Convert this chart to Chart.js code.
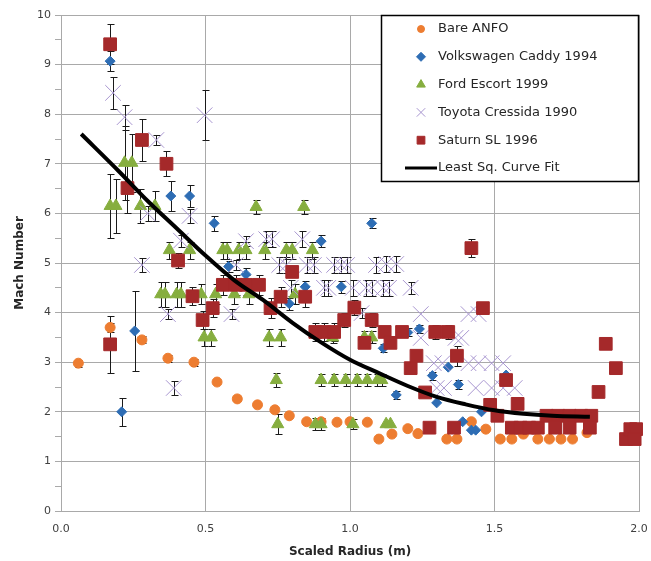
<!DOCTYPE html>
<html>
<head>
<meta charset="utf-8">
<script src="https://cdn.jsdelivr.net/npm/chart.js@4/dist/chart.umd.min.js"></script>
<style>
  html, body { margin: 0; padding: 0; background: #fff; }
  #wrap { width: 651px; height: 561px; }
</style>
</head>
<body>
<div id="wrap"><canvas id="machChart" width="651" height="561"></canvas></div>
<script>
'use strict';

// series names (legend order)
const seriesNames = ['Bare ANFO', 'Volkswagen Caddy 1994', 'Ford Escort 1999',
  'Toyota Cressida 1990', 'Saturn SL 1996', 'Least Sq. Curve Fit'];

// [scaled radius, mach number, error bar half-length]
const bareAnfo = [
  [0.06, 2.98, 0.07], [0.17, 3.7, 0.1], [0.28, 3.45, 0.07], [0.37, 3.08, 0.07], [0.46, 3.0, 0.07],
  [0.54, 2.6, 0], [0.61, 2.26, 0], [0.68, 2.14, 0], [0.74, 2.04, 0], [0.79, 1.92, 0],
  [0.85, 1.8, 0], [0.9, 1.8, 0], [0.955, 1.79, 0], [1.0, 1.8, 0], [1.06, 1.79, 0],
  [1.1, 1.45, 0], [1.145, 1.55, 0], [1.2, 1.66, 0], [1.235, 1.56, 0], [1.335, 1.45, 0],
  [1.37, 1.45, 0], [1.42, 1.8, 0], [1.47, 1.65, 0], [1.52, 1.45, 0], [1.56, 1.45, 0],
  [1.6, 1.55, 0], [1.65, 1.45, 0], [1.69, 1.45, 0], [1.73, 1.45, 0], [1.77, 1.45, 0],
  [1.82, 1.58, 0]
];

const vwCaddy = [
  [0.17, 9.07, 0.2], [0.21, 2.0, 0.28], [0.255, 3.63, 0.8], [0.38, 6.35, 0.3], [0.445, 6.35, 0.22],
  [0.53, 5.8, 0.15], [0.58, 4.93, 0.12], [0.64, 4.77, 0.12], [0.79, 4.18, 0.12], [0.845, 4.52, 0.12],
  [0.9, 5.44, 0.12], [0.97, 4.52, 0.12], [1.075, 5.8, 0.1], [1.115, 3.28, 0.08], [1.16, 2.34, 0.08],
  [1.2, 3.6, 0.08], [1.24, 3.67, 0.08], [1.285, 2.73, 0.08], [1.3, 2.18, 0], [1.34, 2.9, 0],
  [1.375, 2.55, 0.1], [1.39, 1.8, 0], [1.42, 1.63, 0], [1.435, 1.63, 0], [1.455, 2.0, 0],
  [1.54, 2.74, 0]
];

const fordEscort = [
  [0.17, 6.15, 0.65], [0.19, 6.15, 0.55], [0.22, 7.02, 0.75], [0.245, 7.02, 0.58], [0.275, 6.15, 0.35],
  [0.325, 6.15, 0.3], [0.375, 5.26, 0.17], [0.445, 5.26, 0.17], [0.56, 5.26, 0.17], [0.575, 5.26, 0.17],
  [0.615, 5.26, 0.17], [0.64, 5.26, 0.17], [0.705, 5.26, 0.17], [0.78, 5.26, 0.17], [0.8, 5.26, 0.17],
  [0.87, 5.26, 0.17], [0.675, 6.13, 0.15], [0.84, 6.13, 0.15],
  [0.345, 4.37, 0.25], [0.36, 4.37, 0.25], [0.4, 4.37, 0.25], [0.415, 4.37, 0.25], [0.485, 4.37, 0.2],
  [0.535, 4.37, 0.2], [0.6, 4.37, 0.2], [0.65, 4.37, 0.2], [0.81, 4.37, 0.2],
  [0.495, 3.5, 0.17], [0.52, 3.5, 0.17], [0.72, 3.5, 0.17], [0.76, 3.5, 0.17], [0.94, 3.5, 0.12],
  [1.05, 3.5, 0.12], [1.075, 3.5, 0.12],
  [0.745, 2.64, 0.15], [0.9, 2.64, 0.12], [0.945, 2.64, 0.12], [0.985, 2.64, 0.12], [1.025, 2.64, 0.12],
  [1.06, 2.64, 0.12], [1.095, 2.64, 0.12], [1.11, 2.64, 0.12],
  [0.75, 1.75, 0.2], [0.88, 1.75, 0.12], [0.9, 1.75, 0.12], [1.01, 1.75, 0.1], [1.125, 1.75, 0],
  [1.14, 1.75, 0]
];

const toyotaCressida = [
  [0.18, 8.43, 0.33], [0.22, 7.94, 0.25], [0.33, 7.48, 0.1], [0.497, 7.98, 0.5], [0.3, 6.0, 0.15],
  [0.28, 4.96, 0.14], [0.415, 5.45, 0.12], [0.445, 5.95, 0.14], [0.37, 3.97, 0.1], [0.39, 2.48, 0.14],
  [0.59, 3.97, 0.1], [0.605, 4.96, 0.1], [0.64, 5.44, 0.1], [0.71, 5.48, 0.16], [0.73, 5.48, 0.16],
  [0.835, 5.48, 0.16], [0.755, 4.96, 0.16], [0.78, 4.96, 0.16], [0.85, 4.96, 0.16], [0.875, 4.96, 0.16],
  [0.945, 4.96, 0.16], [0.97, 4.96, 0.16], [0.99, 4.96, 0.16], [1.09, 4.96, 0.16], [1.125, 4.98, 0.16],
  [1.16, 4.98, 0.16], [0.795, 4.5, 0.16], [0.91, 4.5, 0.16], [0.925, 4.5, 0.16], [1.01, 4.5, 0.16],
  [1.055, 4.5, 0.16], [1.075, 4.5, 0.16], [1.115, 4.5, 0.16], [1.135, 4.5, 0.16], [1.21, 4.5, 0.12],
  [1.04, 3.99, 0.1], [1.245, 3.97, 0], [1.41, 3.97, 0], [1.445, 3.97, 0], [1.245, 3.49, 0],
  [1.365, 3.49, 0], [1.385, 3.49, 0], [1.29, 2.98, 0], [1.32, 2.98, 0], [1.41, 2.98, 0],
  [1.445, 2.98, 0], [1.49, 2.98, 0], [1.53, 2.98, 0], [1.3, 2.48, 0], [1.325, 2.48, 0],
  [1.435, 2.48, 0], [1.49, 2.48, 0], [1.53, 2.48, 0], [1.57, 2.48, 0]
];

const saturnSL = [
  [0.17, 9.41, 0.4], [0.17, 3.36, 0.57], [0.23, 6.51, 0.5], [0.28, 7.48, 0.42], [0.365, 7.0, 0.25],
  [0.405, 5.05, 0.15], [0.455, 4.33, 0.18], [0.49, 3.85, 0.18], [0.525, 4.09, 0.18], [0.56, 4.56, 0.2],
  [0.605, 4.56, 0.2], [0.64, 4.56, 0.2], [0.685, 4.56, 0.2], [0.725, 4.09, 0.2], [0.76, 4.32, 0.2],
  [0.8, 4.82, 0.1], [0.845, 4.32, 0.2], [0.88, 3.61, 0.18], [0.91, 3.61, 0.18], [0.945, 3.61, 0.18],
  [0.98, 3.85, 0.15], [1.015, 4.1, 0.15], [1.05, 3.39, 0.1], [1.075, 3.85, 0.15], [1.12, 3.61, 0.1],
  [1.14, 3.39, 0.1], [1.18, 3.61, 0.1], [1.21, 2.88, 0.1], [1.23, 3.13, 0.1], [1.26, 2.39, 0.1],
  [1.275, 1.68, 0.1], [1.295, 3.61, 0.15], [1.34, 3.61, 0.15], [1.36, 1.68, 0.1], [1.37, 3.13, 0.2],
  [1.42, 5.3, 0.18], [1.46, 4.09, 0], [1.485, 2.14, 0], [1.51, 1.92, 0], [1.54, 2.64, 0.1],
  [1.58, 2.16, 0], [1.56, 1.68, 0], [1.59, 1.68, 0], [1.62, 1.68, 0], [1.65, 1.68, 0],
  [1.68, 1.92, 0], [1.72, 1.92, 0], [1.71, 1.68, 0], [1.76, 1.92, 0], [1.76, 1.68, 0],
  [1.8, 1.92, 0], [1.835, 1.92, 0], [1.83, 1.68, 0], [1.86, 2.4, 0.08], [1.885, 3.37, 0],
  [1.92, 2.88, 0], [1.955, 1.45, 0], [1.97, 1.65, 0], [1.99, 1.65, 0], [1.985, 1.45, 0]
];

// least squares fit curve
const fitX = [0.07, 0.2, 0.3, 0.4, 0.5, 0.6, 0.7, 0.8, 0.9, 1.0, 1.1, 1.2, 1.3, 1.4, 1.5, 1.6, 1.7, 1.83];
const fitY = [7.6, 6.85, 6.25, 5.7, 5.15, 4.65, 4.25, 3.8, 3.4, 3.05, 2.78, 2.52, 2.3, 2.15, 2.03, 1.96, 1.92, 1.9];

const gridGray = '#a9a9a9';
const tickFont = { family: 'DejaVu Sans', size: 11 };

function toPoints(rows) {
  return rows.map((r) => ({ x: r[0], y: r[1] }));
}
function toErrors(rows) {
  return rows.map((r) => r[2]);
}

// vertical error bars with caps, drawn under the markers
const errorBars = {
  id: 'errorBars',
  beforeDatasetsDraw(chart) {
    const ctx = chart.ctx;
    const xs = chart.scales.x;
    const ys = chart.scales.y;
    ctx.save();
    ctx.strokeStyle = '#1a1a1a';
    ctx.lineWidth = 1;
    chart.data.datasets.forEach((ds) => {
      if (!ds.errors) return;
      ds.data.forEach((p, j) => {
        const e = ds.errors[j];
        if (!e) return;
        const px = Math.round(xs.getPixelForValue(p.x)) + 0.5;
        const top = Math.round(ys.getPixelForValue(p.y + e)) + 0.5;
        const bot = Math.round(ys.getPixelForValue(p.y - e)) + 0.5;
        ctx.beginPath();
        ctx.moveTo(px, top);
        ctx.lineTo(px, bot);
        ctx.moveTo(px - 3, top);
        ctx.lineTo(px + 4, top);
        ctx.moveTo(px - 3, bot);
        ctx.lineTo(px + 4, bot);
        ctx.stroke();
      });
    });
    ctx.restore();
  },
};

// boxed legend inside the plot area, top right
const legendSizes = [3.5, 4.5, 5, 6, 5.5];
const boxLegend = {
  id: 'boxLegend',
  afterDraw(chart) {
    const ctx = chart.ctx;
    const area = chart.chartArea;
    const w = 258;
    const h = 167;
    const left = area.right - w;
    const top = area.top;
    ctx.save();
    ctx.fillStyle = '#fff';
    ctx.fillRect(left, top, w, h);
    ctx.strokeStyle = '#000';
    ctx.lineWidth = 1.5;
    ctx.strokeRect(left + 0.5, top + 0.5, w - 1, h - 1);
    ctx.font = '13px "DejaVu Sans"';
    ctx.textBaseline = 'middle';
    chart.data.datasets.forEach((ds, i) => {
      const y = top + 14 + i * 27.8;
      if (ds.type === 'line') {
        ctx.strokeStyle = '#000';
        ctx.lineWidth = 3;
        ctx.beginPath();
        ctx.moveTo(left + 24, y);
        ctx.lineTo(left + 56, y);
        ctx.stroke();
      } else {
        ctx.fillStyle = ds.backgroundColor;
        ctx.strokeStyle = ds.borderColor;
        ctx.lineWidth = 1;
        Chart.helpers.drawPoint(ctx, {
          pointStyle: ds.pointStyle,
          radius: legendSizes[i],
          rotation: 0,
          borderWidth: 1,
        }, left + 40, y);
      }
      ctx.fillStyle = '#262626';
      ctx.fillText(ds.label, left + 57, y);
    });
    ctx.restore();
  },
};

const markerDatasets = [
  { rows: bareAnfo, style: 'circle', radius: 5, color: '#ED7D31' },
  { rows: vwCaddy, style: 'rectRot', radius: 5, color: '#2E6DB4' },
  { rows: fordEscort, style: 'triangle', radius: 7, color: '#86AE3F' },
  { rows: toyotaCressida, style: 'crossRot', radius: 11, color: '#A896D0' },
  { rows: saturnSL, style: 'rect', radius: 9, color: '#A5292A' },
];
const drawOrder = [5, 4, 3, 2, 1];

const datasets = markerDatasets.map((m, i) => ({
  type: 'scatter',
  label: seriesNames[i],
  data: toPoints(m.rows),
  errors: toErrors(m.rows),
  pointStyle: m.style,
  pointRadius: m.radius,
  pointHoverRadius: m.radius,
  backgroundColor: m.color,
  borderColor: m.color,
  pointBorderWidth: 1,
  clip: 8,
  order: drawOrder[i],
}));

datasets.push({
  type: 'line',
  label: seriesNames[5],
  data: fitX.map((x, i) => ({ x, y: fitY[i] })),
  borderColor: '#000',
  borderWidth: 4,
  pointRadius: 0,
  fill: false,
  cubicInterpolationMode: 'monotone',
  order: 0,
});

new Chart(document.getElementById('machChart').getContext('2d'), {
  type: 'scatter',
  data: { datasets },
  options: {
    responsive: false,
    animation: false,
    layout: { padding: { top: 15, right: 0, left: 0, bottom: 0 } },
    plugins: {
      legend: { display: false },
      tooltip: { enabled: false },
    },
    scales: {
      x: {
        type: 'linear',
        min: 0,
        max: 2,
        ticks: {
          stepSize: 0.5,
          color: '#404040',
          font: tickFont,
          padding: 0,
          callback: (v) => v.toFixed(1),
        },
        // invisible tick marks push the labels down without widening the right padding
        grid: { color: gridGray, drawTicks: true, tickLength: 12, tickColor: 'rgba(0,0,0,0)' },
        border: { color: gridGray },
        title: {
          display: true,
          text: 'Scaled Radius (m)',
          color: '#262626',
          font: { family: 'DejaVu Sans', size: 12, weight: 'bold' },
          padding: { top: 0, bottom: 2 },
        },
        afterFit: (scale) => { scale.height = 50; },
      },
      y: {
        min: 0,
        max: 10,
        ticks: {
          stepSize: 0.5,
          color: '#404040',
          font: tickFont,
          padding: 4,
          callback: (v) => (Number.isInteger(v) ? v : ''),
        },
        grid: {
          color: (c) => (c.tick && Number.isInteger(c.tick.value) ? gridGray : 'rgba(0,0,0,0)'),
          tickColor: gridGray,
          tickLength: 6,
        },
        border: { color: gridGray },
        title: {
          display: true,
          text: 'Mach Number',
          color: '#262626',
          font: { family: 'DejaVu Sans', size: 12, weight: 'bold' },
          padding: { top: 13, bottom: 0 },
        },
        afterFit: (scale) => { scale.width = 61; },
      },
    },
  },
  plugins: [errorBars, boxLegend],
});
</script>
</body>
</html>
